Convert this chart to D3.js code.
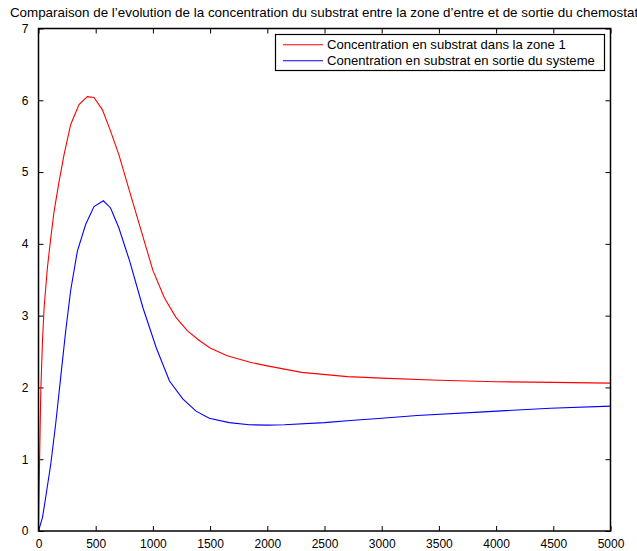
<!DOCTYPE html>
<html>
<head>
<meta charset="utf-8">
<script src="https://cdn.jsdelivr.net/npm/d3@7"></script>
<style>
  html, body { margin: 0; padding: 0; background: #fff; }
  svg { display: block; font-family: "Liberation Sans", Arial, Helvetica, sans-serif; }
</style>
</head>
<body>
<svg id="chart" width="637" height="551"></svg>
<script>
// Substrate concentration in zone 1 (entry)
const timeZone1 = [0, 5, 20, 35, 49, 78, 107, 136, 180, 223, 281, 354, 427, 485, 558, 630, 703, 800, 900, 1000, 1100, 1200, 1300, 1400, 1500, 1650, 1850, 2000, 2300, 2700, 3000, 3500, 4000, 4500, 5000];
const concZone1 = [0, 0.57, 1.95, 2.65, 3.11, 3.67, 4.08, 4.45, 4.87, 5.24, 5.66, 5.94, 6.05, 6.04, 5.87, 5.57, 5.24, 4.71, 4.17, 3.63, 3.25, 2.98, 2.79, 2.66, 2.55, 2.44, 2.35, 2.30, 2.21, 2.15, 2.13, 2.10, 2.08, 2.07, 2.06];

// Substrate concentration at the system outlet
const timeOutlet = [0, 35, 63, 107, 150, 194, 238, 281, 340, 412, 485, 567, 630, 703, 756, 797, 913, 1030, 1145, 1261, 1377, 1493, 1667, 1841, 2000, 2150, 2500, 2727, 3000, 3310, 3892, 4475, 5000];
const concOutlet = [0, 0.19, 0.47, 0.93, 1.49, 2.14, 2.79, 3.35, 3.90, 4.27, 4.52, 4.60, 4.50, 4.22, 3.96, 3.76, 3.11, 2.55, 2.09, 1.84, 1.67, 1.57, 1.51, 1.48, 1.475, 1.48, 1.51, 1.54, 1.57, 1.61, 1.66, 1.71, 1.74];

const xTicks = [0, 500, 1000, 1500, 2000, 2500, 3000, 3500, 4000, 4500, 5000];
const yTicks = [0, 1, 2, 3, 4, 5, 6, 7];

const seriesNames = ["Concentration en substrat dans la zone 1", "Conentration en substrat en sortie du systeme"];
const seriesColors = ["#ff0000", "#0000ff"];
const chartTitle = "Comparaison de l\u2019evolution de la concentration du substrat entre la zone d\u2019entre et de sortie du chemostat";

const svg = d3.select("#chart");
const plot = { left: 38.5, right: 610.5, top: 28.5, bottom: 531 };

const x = d3.scaleLinear().domain([0, 5000]).range([plot.left, plot.right]);
const y = d3.scaleLinear().domain([0, 7]).range([plot.bottom, plot.top]);

// Title
svg.append("text")
  .attr("x", 324)
  .attr("y", 17)
  .attr("text-anchor", "middle")
  .attr("font-size", 13.4)
  .attr("fill", "#000")
  .text(chartTitle);

// Axes with inward ticks on all four sides
const tickLen = 5;
const axisStyle = g => {
  g.select(".domain").remove();
  g.selectAll(".tick line").attr("stroke", "#000");
  g.selectAll(".tick text").attr("font-size", 12).attr("fill", "#000")
    .attr("font-family", "'Liberation Sans', Arial, sans-serif");
};

svg.append("g")
  .attr("transform", `translate(0,${plot.bottom})`)
  .call(d3.axisBottom(x).tickValues(xTicks).tickFormat(d3.format("d")).tickSizeInner(-tickLen).tickSizeOuter(0).tickPadding(8))
  .call(axisStyle);

svg.append("g")
  .attr("transform", `translate(0,${plot.top})`)
  .call(d3.axisTop(x).tickValues(xTicks).tickFormat("").tickSizeInner(-tickLen).tickSizeOuter(0))
  .call(axisStyle);

svg.append("g")
  .attr("transform", `translate(${plot.left},0)`)
  .call(d3.axisLeft(y).tickValues(yTicks).tickFormat(d3.format("d")).tickSizeInner(-tickLen).tickSizeOuter(0).tickPadding(10))
  .call(axisStyle);

svg.append("g")
  .attr("transform", `translate(${plot.right},0)`)
  .call(d3.axisRight(y).tickValues(yTicks).tickFormat("").tickSizeInner(-tickLen).tickSizeOuter(0))
  .call(axisStyle);

// Curves
const series = [
  timeZone1.map((t, i) => [t, concZone1[i]]),
  timeOutlet.map((t, i) => [t, concOutlet[i]])
];
const line = d3.line().x(d => x(d[0])).y(d => y(d[1]));

svg.append("defs").append("clipPath").attr("id", "plotClip")
  .append("rect")
  .attr("x", plot.left).attr("y", plot.top)
  .attr("width", plot.right - plot.left).attr("height", plot.bottom - plot.top);

svg.append("g").attr("clip-path", "url(#plotClip)")
  .selectAll("path")
  .data(series)
  .join("path")
  .attr("d", line)
  .attr("fill", "none")
  .attr("stroke", (d, i) => seriesColors[i])
  .attr("stroke-width", 1.1);

// Plot frame
svg.append("rect")
  .attr("x", plot.left).attr("y", plot.top)
  .attr("width", plot.right - plot.left).attr("height", plot.bottom - plot.top)
  .attr("fill", "none")
  .attr("stroke", "#000")
  .attr("stroke-width", 1.5);

// Legend
const legend = svg.append("g");
legend.append("rect")
  .attr("x", 275.5).attr("y", 34.5)
  .attr("width", 329).attr("height", 36)
  .attr("fill", "#fff")
  .attr("stroke", "#000")
  .attr("stroke-width", 1.2);

seriesNames.forEach((name, i) => {
  const ly = 44.7 + i * 16;
  legend.append("line")
    .attr("x1", 283).attr("x2", 323)
    .attr("y1", ly).attr("y2", ly)
    .attr("stroke", seriesColors[i])
    .attr("stroke-width", 1.1);
  legend.append("text")
    .attr("x", 327).attr("y", ly + 4.5)
    .attr("font-size", 13.1)
    .attr("fill", "#000")
    .text(name);
});
</script>
</body>
</html>
